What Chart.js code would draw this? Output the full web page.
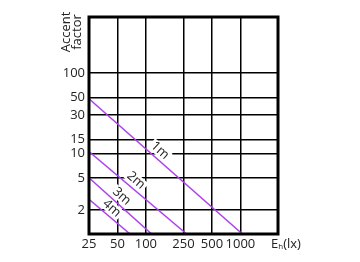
<!DOCTYPE html>
<html>
<head>
<meta charset="utf-8">
<script src="https://cdn.jsdelivr.net/npm/chart.js@4.4.1/dist/chart.umd.min.js"></script>
<style>
  body { margin: 0; background: #fff; }
</style>
</head>
<body>
<canvas id="chart" width="360" height="262"></canvas>
<script>
// illuminance ticks (lx) and accent factor ticks
const xTicks = [25, 50, 100, 250, 500, 1000];
const yTicks = [2, 5, 10, 15, 30, 50, 100];

// one line per mounting distance
const lineNames = ['1m', '2m', '3m', '4m'];
const line1m = [{ x: 25, y: 48 }, { x: 1050, y: 1 }];
const line2m = [{ x: 25, y: 10.6 }, { x: 270, y: 1 }];
const line3m = [{ x: 25, y: 5 }, { x: 115, y: 1 }];
const line4m = [{ x: 25, y: 2.7 }, { x: 68, y: 1 }];

// where the name of each line sits
const labelAt = [
    { x: 141, y: 10.9 },
    { x: 78.6, y: 4.64 },
    { x: 55.5, y: 2.95 },
    { x: 43.5, y: 2.09 }
];

const purple = '#ad42ec';
const fontFamily = '"Open Sans", Lato, sans-serif';

const decorPlugin = {
    id: 'decor',
    afterDatasetsDraw(chart) {
        const ctx = chart.ctx;
        const area = chart.chartArea;
        const xs = chart.scales.x;
        const ys = chart.scales.y;

        // line names, rotated along the lines
        ctx.save();
        ctx.font = '13px ' + fontFamily;
        ctx.textAlign = 'center';
        ctx.textBaseline = 'middle';
        labelAt.forEach((p, i) => {
            const px = xs.getPixelForValue(p.x);
            const py = ys.getPixelForValue(p.y);
            ctx.save();
            ctx.translate(px, py);
            ctx.rotate(42 * Math.PI / 180);
            const w = ctx.measureText(lineNames[i]).width;
            ctx.fillStyle = '#fff';
            ctx.fillRect(-w / 2 - 2, -6, w + 4, 12);
            ctx.fillStyle = '#222';
            ctx.fillText(lineNames[i], 0, 0);
            ctx.restore();
        });
        ctx.restore();

        // thick frame
        ctx.save();
        ctx.strokeStyle = '#000';
        ctx.lineWidth = 3;
        ctx.strokeRect(area.left, area.top, area.right - area.left, area.bottom - area.top);
        ctx.restore();

        // axis titles
        ctx.save();
        ctx.fillStyle = '#222';
        ctx.font = '13px ' + fontFamily;
        ctx.textAlign = 'center';
        ctx.textBaseline = 'middle';
        ctx.translate(66, 32);
        ctx.rotate(-Math.PI / 2);
        ctx.fillText('Accent', 0, 0);
        ctx.fillText('factor', 0, 11);
        ctx.restore();

        ctx.save();
        ctx.fillStyle = '#222';
        ctx.textBaseline = 'alphabetic';
        ctx.textAlign = 'left';
        ctx.font = '13px ' + fontFamily;
        let tx = 271;
        const ty = 248;
        ctx.fillText('E', tx, ty);
        tx += ctx.measureText('E').width;
        ctx.font = '8px ' + fontFamily;
        ctx.fillText('h', tx, ty + 1);
        tx += ctx.measureText('h').width;
        ctx.font = '13px ' + fontFamily;
        ctx.fillText('(lx)', tx, ty);
        ctx.restore();
    }
};

const datasets = [line1m, line2m, line3m, line4m].map((d, i) => ({
    label: lineNames[i],
    data: d,
    borderColor: purple,
    borderWidth: 1.5,
    pointRadius: 0,
    fill: false,
    tension: 0
}));

new Chart(document.getElementById('chart'), {
    type: 'line',
    data: { datasets: datasets },
    options: {
        responsive: false,
        animation: false,
        layout: { padding: { top: 17, right: 82, left: 0, bottom: 0 } },
        plugins: {
            legend: { display: false },
            tooltip: { enabled: false }
        },
        scales: {
            x: {
                type: 'logarithmic',
                min: 25,
                max: 2500,
                afterBuildTicks: scale => { scale.ticks = xTicks.map(v => ({ value: v })); },
                afterFit: scale => { scale.height = 28; },
                border: { display: false },
                grid: { color: '#000', lineWidth: 1.5, drawTicks: false },
                ticks: {
                    autoSkip: false,
                    maxRotation: 0,
                    padding: 2,
                    color: '#222',
                    font: { family: fontFamily, size: 13 },
                    callback: v => String(v)
                }
            },
            y: {
                type: 'logarithmic',
                min: 1,
                max: 500,
                afterBuildTicks: scale => { scale.ticks = yTicks.map(v => ({ value: v })); },
                afterFit: scale => { scale.width = 89; },
                border: { display: false },
                grid: { color: '#000', lineWidth: 1.5, drawTicks: false },
                ticks: {
                    autoSkip: false,
                    padding: 4,
                    color: '#222',
                    font: { family: fontFamily, size: 13 },
                    callback: v => String(v)
                }
            }
        }
    },
    plugins: [decorPlugin]
});
</script>
</body>
</html>
